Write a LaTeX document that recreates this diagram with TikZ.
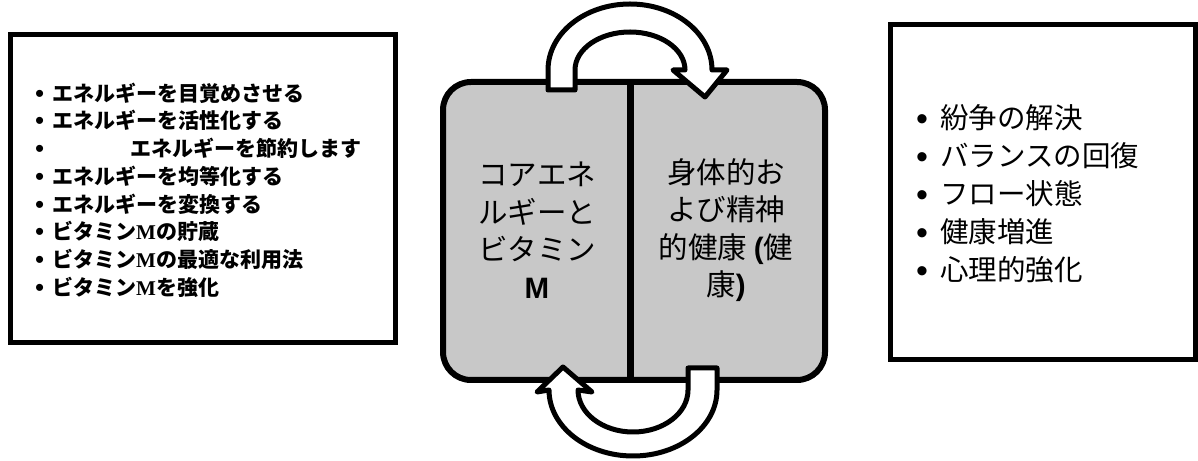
\documentclass[tikz,border=0pt]{standalone}
\usepackage{fontspec}
\newfontfamily\jp{Noto Sans CJK JP}
\newfontfamily\serL{Liberation Serif}
\newfontfamily\sanL{Liberation Sans}
\definecolor{boxgray}{HTML}{C8C8C8}
\tikzset{
  listbox/.style={draw=black, line width=5pt, fill=white},
  halfbox/.style={draw=black, line width=6pt, fill=boxgray, rounded corners=28pt},
  cyclearrow/.style={draw=black, line width=5pt, fill=white, line join=round},
  lefttext/.style={anchor=west, inner sep=0pt, align=left, font={\jp\bfseries\fontsize{21}{27.7}\selectfont}},
  righttext/.style={anchor=west, inner sep=0pt, align=left, font={\jp\fontsize{28.5}{38}\selectfont}},
  midtext/.style={anchor=center, inner sep=0pt, align=center, font={\jp\fontsize{29.5}{37.5}\selectfont}},
}
\newcommand{\blt}[3]{\makebox[#1][l]{\raisebox{#3}{\sanL\mdseries\fontsize{#2}{0}\selectfont •}}}
\newcommand{\bM}{{\serL\bfseries M}}
\begin{document}
\begin{tikzpicture}[x=1pt,y=1pt]
\useasboundingbox (0,0) rectangle (1198,460);
% left list box
\draw[listbox] (10,117) rectangle (395,425);
\node[lefttext] (ltext) at (35,270) {%
\blt{17pt}{26}{-1pt}エネルギーを目覚めさせる\\
\blt{17pt}{26}{-1pt}エネルギーを活性化する\\
\blt{95pt}{26}{-1pt}エネルギーを節約します\\
\blt{17pt}{26}{-1pt}エネルギーを均等化する\\
\blt{17pt}{26}{-1pt}エネルギーを変換する\\
\blt{17pt}{26}{-1pt}ビタミン\bM の貯蔵\\
\blt{17pt}{26}{-1pt}ビタミン\bM の最適な利用法\\
\blt{17pt}{26}{-1pt}ビタミン\bM を強化};
% right list box
\draw[listbox] (890,100) rectangle (1195,435);
\node[righttext] (rtext) at (916,266) {%
\blt{24pt}{34}{-1.5pt}紛争の解決\\
\blt{24pt}{34}{-1.5pt}バランスの回復\\
\blt{24pt}{34}{-1.5pt}フロー状態\\
\blt{24pt}{34}{-1.5pt}健康増進\\
\blt{24pt}{34}{-1.5pt}心理的強化};
% central box
\draw[halfbox] (443,80) rectangle (825,378);
\draw[line width=7pt] (630,80) -- (630,378);
\node[midtext] (core) at (537,230) {コアエネ\\ルギーと\\ビタミン\\{\sanL\bfseries M}};
\node[midtext] (health) at (726,230) {身体的お\\よび精神\\的健康 {\sanL\bfseries(}健\\康{\sanL\bfseries)}};
% top cycle arrow
\draw[cyclearrow] (548,370) -- (548,390)
  arc[start angle=180, end angle=0, x radius=82, y radius=66]
  -- (727,390) -- (705,363) -- (673,390) -- (685,390)
  arc[start angle=0, end angle=180, x radius=55, y radius=38]
  -- (575,370) -- cycle;
% bottom cycle arrow
\draw[cyclearrow] (717,92) -- (717,70)
  arc[start angle=0, end angle=-180, x radius=84, y radius=66]
  -- (537,68) -- (563,93) -- (592,68) -- (578,70)
  arc[start angle=-180, end angle=0, x radius=55, y radius=42]
  -- (688,92) -- cycle;
\end{tikzpicture}
\end{document}
